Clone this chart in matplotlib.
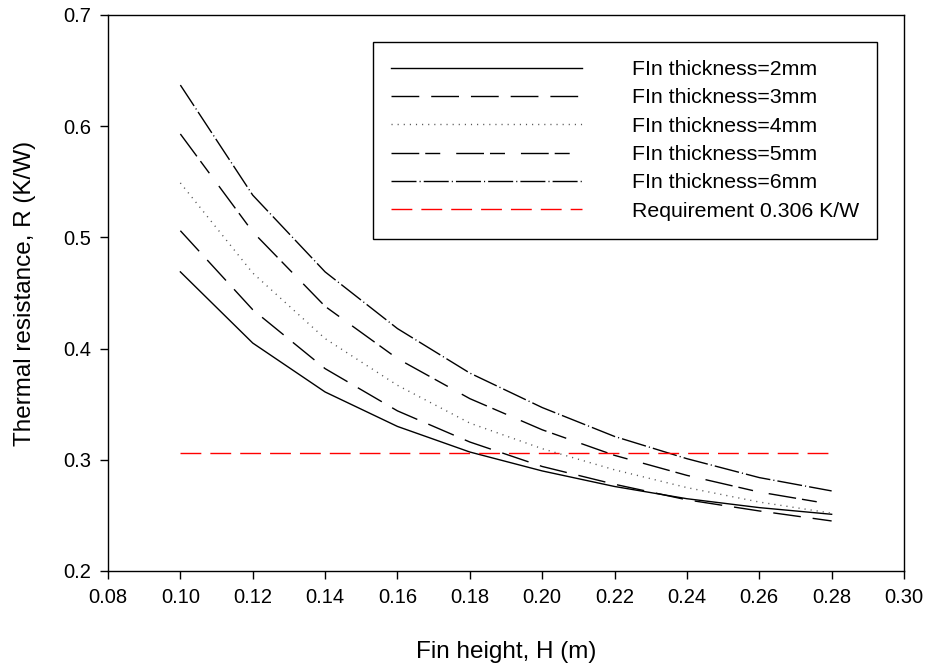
import matplotlib
matplotlib.use("Agg")
import matplotlib.pyplot as plt

plt.rcParams['font.family'] = ['Liberation Sans', 'DejaVu Sans']

# fin height (m)
H = [0.10, 0.12, 0.14, 0.16, 0.18, 0.20, 0.22, 0.24, 0.26, 0.28]

# thermal resistance (K/W) for each fin thickness
R_2mm = [0.469, 0.405, 0.361, 0.330, 0.307, 0.290, 0.276, 0.265, 0.257, 0.251]
R_3mm = [0.506, 0.435, 0.382, 0.344, 0.316, 0.294, 0.278, 0.264, 0.254, 0.245]
R_4mm = [0.549, 0.468, 0.409, 0.367, 0.333, 0.310, 0.291, 0.275, 0.262, 0.252]
R_5mm = [0.593, 0.505, 0.438, 0.391, 0.355, 0.327, 0.304, 0.286, 0.271, 0.260]
R_6mm = [0.637, 0.538, 0.469, 0.418, 0.378, 0.347, 0.321, 0.301, 0.284, 0.272]

H_req = [0.10, 0.28]
R_req = [0.306, 0.306]

labels = ["FIn thickness=2mm", "FIn thickness=3mm", "FIn thickness=4mm",
          "FIn thickness=5mm", "FIn thickness=6mm", "Requirement 0.306 K/W"]

fig = plt.figure(figsize=(9.29, 6.71), dpi=100)
ax = fig.add_axes([108/929, 1-571/671, (904-108)/929, (571-15)/671])

lw = 1.0
ax.plot(H, R_2mm, color="black", lw=lw, ls="-", label=labels[0])
ax.plot(H, R_3mm, color="black", lw=lw, ls=(0, (20, 8.6)), label=labels[1])
ax.plot(H, R_4mm, color="#555555", lw=lw, ls=(0, (0.8, 3.6)), label=labels[2])
ax.plot(H, R_5mm, color="black", lw=lw, ls=(0, (20, 4.3, 10.8, 11.5)), label=labels[3])
ax.plot(H, R_6mm, color="black", lw=lw, ls=(0, (18, 2.2, 0.8, 2.2)), label=labels[4])
ax.plot(H_req, R_req, color="red", lw=lw, ls=(0, (15, 6.5)), label=labels[5])

ax.set_xlim(0.08, 0.30)
ax.set_ylim(0.2, 0.7)
ax.set_xticks([0.08 + 0.02*i for i in range(12)])
ax.set_xticklabels(["%.2f" % (0.08 + 0.02*i) for i in range(12)])
ax.set_yticks([0.2, 0.3, 0.4, 0.5, 0.6, 0.7])
ax.set_yticklabels(["0.2", "0.3", "0.4", "0.5", "0.6", "0.7"])
ax.tick_params(direction="out", length=6, width=1, labelsize=14.5, pad=6)
for s in ax.spines.values():
    s.set_linewidth(1)

ax.set_xlabel("Fin height, H (m)", fontsize=17.5, labelpad=25)
ax.set_ylabel("Thermal resistance, R (K/W)", fontsize=17.5, labelpad=20)

leg = ax.legend(loc="upper left", bbox_to_anchor=(373/929, 1-42/671),
                bbox_transform=fig.transFigure, borderaxespad=0,
                fontsize=15.3, handlelength=9.0, handletextpad=2.35,
                labelspacing=0.44, borderpad=0.85, fancybox=False,
                edgecolor="black", framealpha=1)
leg.get_frame().set_linewidth(1)

fig.savefig("out.png", dpi=100)
